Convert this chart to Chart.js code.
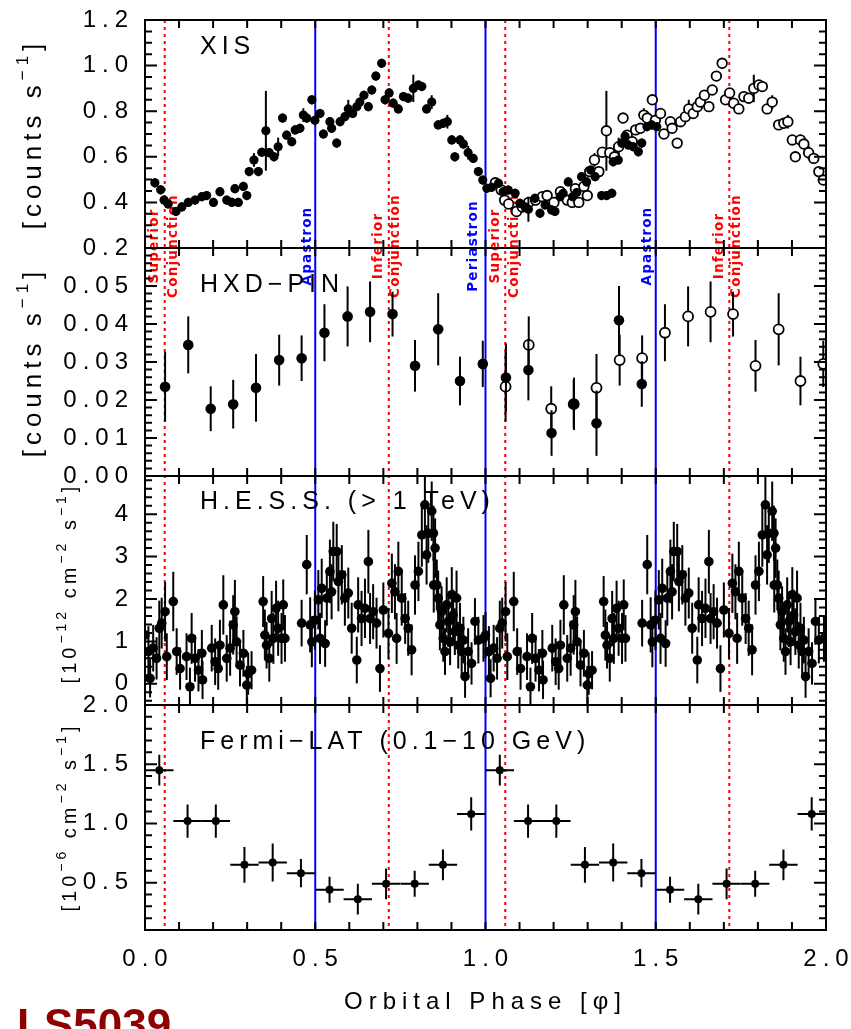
<!DOCTYPE html>
<html><head><meta charset="utf-8">
<script src="https://cdn.jsdelivr.net/npm/chart.js@4.4.1/dist/chart.umd.min.js"></script>
<style>html,body{margin:0;padding:0;background:#fff;}canvas{display:block;}</style>
</head><body>
<canvas id="c" width="851" height="1029"></canvas>
<script>
const FONT = "'Liberation Sans', Arial, Helvetica, sans-serif";

// ---------------- DATA ----------------
// Suzaku XIS, first orbit (also repeated as open circles one cycle later)
const xisPhaseA = [0.029,0.046,0.056,0.068,0.091,0.108,0.127,0.147,0.167,0.181,
  0.201,0.220,0.240,0.255,0.264,0.274,0.289,0.299,0.306,0.320,
  0.333,0.343,0.355,0.365,0.379,0.391,0.404,0.416,0.431,0.441,
  0.455,0.465,0.475,0.490,0.499,0.514,0.524,0.543,0.548,0.563,
  0.573,0.587,0.597,0.610,0.622,0.631,0.643,0.656,0.666,0.678,
  0.695,0.705,0.717,0.729,0.744,0.759,0.773,0.788,0.803,0.813,
  0.827,0.842,0.861,0.876,0.888,0.901,0.910,0.925,0.935,0.949,
  0.964,0.979,0.992];
const xisRateA = [0.486,0.455,0.410,0.393,0.360,0.380,0.400,0.410,0.425,0.430,
  0.400,0.447,0.410,0.400,0.460,0.400,0.470,0.430,0.535,0.586,
  0.535,0.620,0.714,0.618,0.600,0.644,0.770,0.695,0.666,0.718,
  0.725,0.783,0.770,0.850,0.760,0.790,0.700,0.754,0.725,0.660,
  0.754,0.776,0.810,0.790,0.820,0.840,0.870,0.820,0.893,0.954,
  1.010,0.850,0.880,0.835,0.810,0.864,0.857,0.900,0.915,0.908,
  0.810,0.840,0.740,0.747,0.754,0.674,0.600,0.674,0.656,0.618,
  0.593,0.535,0.498];
const xisErrA = [0.02,0.02,0.02,0.02,0.02,0.02,0.02,0.02,0.02,0.02,
  0.02,0.02,0.02,0.02,0.02,0.02,0.02,0.02,0.02,0.03,
  0.02,0.02,0.175,0.02,0.02,0.04,0.02,0.02,0.02,0.02,
  0.02,0.03,0.02,0.02,0.02,0.02,0.02,0.02,0.02,0.02,
  0.02,0.02,0.04,0.02,0.02,0.02,0.02,0.02,0.02,0.02,
  0.02,0.02,0.02,0.02,0.02,0.02,0.02,0.06,0.02,0.02,
  0.02,0.03,0.02,0.02,0.03,0.02,0.02,0.02,0.02,0.03,
  0.02,0.02,0.02];
// Suzaku XIS, second pass (phase 1.0 - 1.5)
const xisPhaseB = [1.004,1.018,1.038,1.052,1.067,1.087,1.101,1.116,1.126,1.145,
  1.160,1.175,1.194,1.204,1.219,1.228,1.243,1.256,1.268,1.282,
  1.297,1.309,1.322,1.341,1.356,1.371,1.375,1.390,1.400,1.410,
  1.419,1.434,1.449,1.459,1.474,1.488,1.503];
const xisRateB = [0.462,0.466,0.484,0.447,0.454,0.440,0.396,0.380,0.370,0.418,
  0.352,0.389,0.367,0.360,0.425,0.440,0.490,0.425,0.443,0.513,
  0.490,0.542,0.513,0.430,0.430,0.440,0.578,0.586,0.660,0.690,
  0.652,0.644,0.622,0.660,0.732,0.740,0.732];
const xisErrB = [0.02,0.02,0.02,0.02,0.02,0.02,0.02,0.02,0.055,0.02,
  0.02,0.02,0.02,0.02,0.02,0.02,0.02,0.02,0.02,0.02,
  0.02,0.02,0.02,0.02,0.02,0.02,0.02,0.02,0.02,0.02,
  0.02,0.02,0.02,0.02,0.02,0.02,0.02];

// Suzaku HXD-PIN
const hxdPhaseA = [0.059,0.127,0.193,0.259,0.326,0.394,0.460,0.527,0.595,0.661,0.727,0.793,0.861,0.925,0.992];
const hxdRateA  = [0.0235,0.0345,0.0177,0.0189,0.0232,0.0305,0.0310,0.0377,0.0420,0.0432,0.0426,0.0290,0.0386,0.0250,0.0295];
const hxdErrA   = [0.0092,0.0075,0.0059,0.0064,0.0089,0.0067,0.0060,0.0075,0.0079,0.0080,0.0059,0.0068,0.0095,0.0064,0.0061];
const hxdPhaseB = [1.060,1.126,1.194,1.260,1.326,1.392,1.459];
const hxdRateB  = [0.0259,0.0279,0.0113,0.0190,0.0139,0.0410,0.0242];
const hxdErrB   = [0.0090,0.0080,0.0060,0.0069,0.0086,0.0090,0.0060];

// H.E.S.S. (> 1 TeV), one orbit, shown twice
const hessPhase = [0.000,0.010,0.015,0.024,0.034,0.042,0.049,0.059,0.064,0.083,
  0.093,0.103,0.122,0.132,0.137,0.147,0.157,0.167,0.169,0.196,
  0.206,0.215,0.220,0.230,0.240,0.250,0.259,0.264,0.269,0.279,
  0.289,0.299,0.303,0.313,0.347,0.352,0.357,0.365,0.372,0.377,
  0.385,0.391,0.401,0.406,0.411,0.460,0.475,0.485,0.490,0.499,
  0.509,0.514,0.519,0.529,0.534,0.543,0.548,0.553,0.563,0.568,
  0.578,0.587,0.597,0.607,0.622,0.626,0.636,0.646,0.656,0.661,
  0.670,0.680,0.690,0.700,0.715,0.725,0.734,0.739,0.744,0.754,
  0.764,0.773,0.783,0.793,0.803,0.813,0.822,0.827,0.832,0.842,
  0.847,0.848,0.852,0.857,0.861,0.866,0.871,0.876,0.881,0.886,
  0.891,0.896,0.901,0.905,0.910,0.915,0.920,0.925,0.930,0.935,
  0.940,0.949,0.959,0.969,0.979,0.994];
const hessFlux = [1.15,0.76,0.13,0.84,0.60,1.31,1.43,1.70,0.64,1.94,
  0.76,0.36,0.64,-0.07,1.07,0.60,0.32,0.72,0.09,0.84,
  0.52,0.36,0.91,1.86,0.60,0.84,1.39,1.70,0.99,0.44,
  0.72,-0.03,0.24,0.32,1.94,1.15,0.91,0.60,1.54,1.07,
  1.78,1.31,1.07,1.86,1.07,1.43,2.81,1.39,0.99,1.50,
  1.98,1.07,2.25,0.95,2.02,2.65,2.17,3.12,3.12,2.41,
  2.57,2.02,2.14,1.31,0.56,1.86,1.54,1.78,2.88,1.54,
  1.70,1.43,0.36,1.74,1.19,2.37,2.17,1.07,2.65,2.02,
  1.54,1.31,0.80,2.33,2.65,3.51,4.22,3.04,3.55,4.07,
  3.55,2.33,3.20,2.33,2.02,1.39,1.70,1.07,0.76,1.86,
  1.47,0.99,2.10,1.62,1.23,2.02,0.91,1.31,0.76,1.03,
  0.17,0.76,0.48,1.47,1.03,1.07];
const hessErr = [0.55,0.60,0.45,0.55,0.50,0.65,0.60,0.70,0.55,0.70,
  0.55,0.50,0.55,0.45,0.60,0.55,0.50,0.55,0.45,0.55,
  0.55,0.50,0.60,0.70,0.55,0.65,0.70,0.75,0.60,0.50,
  0.55,0.45,0.50,0.45,0.60,0.60,0.55,0.55,0.65,0.60,
  0.65,0.65,0.60,0.60,0.55,0.55,0.70,0.65,0.60,0.70,
  0.70,0.60,0.70,0.55,0.65,0.75,0.65,0.70,0.65,0.70,
  0.70,0.65,0.60,0.60,0.55,0.65,0.65,0.70,0.75,0.60,
  0.65,0.60,0.55,0.65,0.60,0.70,0.65,0.60,0.70,0.65,
  0.60,0.65,0.60,0.70,0.70,0.75,0.75,0.70,0.70,0.70,
  0.65,0.65,0.70,0.60,0.65,0.60,0.60,0.55,0.55,0.65,
  0.60,0.55,0.65,0.60,0.55,0.65,0.55,0.60,0.55,0.55,
  0.50,0.55,0.50,0.55,0.55,0.55];

// Fermi-LAT (0.1-10 GeV), 12 phase bins, shown twice
const fermiPhase = [0.042,0.125,0.208,0.292,0.375,0.458,0.542,0.625,0.708,0.792,0.875,0.958];
const fermiFlux  = [1.45,1.02,1.02,0.65,0.67,0.58,0.44,0.36,0.49,0.49,0.65,1.08];
const fermiErr   = [0.13,0.14,0.14,0.15,0.16,0.12,0.11,0.13,0.13,0.11,0.13,0.14];
const fermiBinHalfWidth = 0.0417;

// orbital markers
const apastronPhases   = [0.5, 1.5];
const periastronPhases = [1.0];
const supConjPhases    = [0.058, 1.058];
const infConjPhases    = [0.716, 1.716];

const panelTitles = ['XIS', 'HXD\u2212PIN', 'H.E.S.S. (> 1 TeV)', 'Fermi\u2212LAT (0.1\u221210 GeV)'];
const xTickLabels = ['0.0','0.5','1.0','1.5','2.0'];

// ---------------- BUILD ----------------
const pts = (ph, v, shift) => ph.map((p, i) => ({x: p + (shift || 0), y: v[i]}));

const xisFilled = pts(xisPhaseA, xisRateA).concat(pts(xisPhaseB, xisRateB));
const xisFilledErr = xisErrA.concat(xisErrB);
const xisOpen = pts(xisPhaseA, xisRateA, 1);
const hxdFilled = pts(hxdPhaseA, hxdRateA).concat(pts(hxdPhaseB, hxdRateB));
const hxdFilledErr = hxdErrA.concat(hxdErrB);
const hxdOpen = pts(hxdPhaseA, hxdRateA, 1);
const hessPts = pts(hessPhase, hessFlux).concat(pts(hessPhase, hessFlux, 1));
const hessPtsErr = hessErr.concat(hessErr);
const fermiPts = pts(fermiPhase, fermiFlux).concat(pts(fermiPhase, fermiFlux, 1));
const fermiPtsErr = fermiErr.concat(fermiErr);
const fermiPtsXErr = fermiPts.map(() => fermiBinHalfWidth);

// ---------------- PLUGINS ----------------
const setLS = (ctx, v) => { try { ctx.letterSpacing = v + 'px'; } catch (e) {} };

const letterSpacingPlugin = {
  id: 'ls',
  beforeUpdate(chart) { setLS(chart.ctx, 6); },
  beforeDraw(chart) { setLS(chart.ctx, 6); }
};

const errorBars = {
  id: 'errorBars',
  beforeDatasetDraw(chart, args) {
    const ds = chart.data.datasets[args.index];
    if (!ds.errY && !ds.errX) return;
    const xs = chart.scales[args.meta.xAxisID], ys = chart.scales[args.meta.yAxisID];
    const ctx = chart.ctx;
    ctx.save();
    ctx.beginPath();
    ctx.rect(chart.chartArea.left, ys.top, chart.chartArea.right - chart.chartArea.left, ys.bottom - ys.top);
    ctx.clip();
    ctx.strokeStyle = '#000';
    ctx.lineWidth = ds.errWidth || 2;
    ds.data.forEach((d, i) => {
      const px = xs.getPixelForValue(d.x), py = ys.getPixelForValue(d.y);
      ctx.beginPath();
      if (ds.errY) {
        const e = ds.errY[i];
        ctx.moveTo(px, ys.getPixelForValue(d.y - e));
        ctx.lineTo(px, ys.getPixelForValue(d.y + e));
      }
      if (ds.errX) {
        const e = ds.errX[i];
        ctx.moveTo(xs.getPixelForValue(d.x - e), py);
        ctx.lineTo(xs.getPixelForValue(d.x + e), py);
      }
      ctx.stroke();
    });
    ctx.restore();
  }
};

const markerLabels = [
  {phase: 0.058, dx: -10, text: 'Superior', color: '#ff0000'},
  {phase: 0.058, dx: 9, text: 'Conjunction', color: '#ff0000'},
  {phase: 0.5, dx: -8, text: 'Apastron', color: '#0000ff'},
  {phase: 0.716, dx: -10, text: 'Inferior', color: '#ff0000'},
  {phase: 0.716, dx: 7, text: 'Conjunction', color: '#ff0000'},
  {phase: 1.0, dx: -12, text: 'Periastron', color: '#0000ff'},
  {phase: 1.058, dx: -10, text: 'Superior', color: '#ff0000'},
  {phase: 1.058, dx: 9, text: 'Conjunction', color: '#ff0000'},
  {phase: 1.5, dx: -8, text: 'Apastron', color: '#0000ff'},
  {phase: 1.716, dx: -10, text: 'Inferior', color: '#ff0000'},
  {phase: 1.716, dx: 7, text: 'Conjunction', color: '#ff0000'}
];

const background = {
  id: 'background',
  beforeDatasetsDraw(chart) {
    const ctx = chart.ctx, a = chart.chartArea, xs = chart.scales.x;
    ctx.save();
    ctx.lineWidth = 2;
    ctx.strokeStyle = '#0000ff';
    apastronPhases.concat(periastronPhases).forEach(p => {
      const x = xs.getPixelForValue(p);
      ctx.beginPath(); ctx.moveTo(x, a.top); ctx.lineTo(x, a.bottom); ctx.stroke();
    });
    ctx.strokeStyle = '#ff0000';
    ctx.setLineDash([3, 4]);
    supConjPhases.concat(infConjPhases).forEach(p => {
      const x = xs.getPixelForValue(p);
      ctx.beginPath(); ctx.moveTo(x, a.top); ctx.lineTo(x, a.bottom); ctx.stroke();
    });
    ctx.setLineDash([]);
    const cy = chart.scales.yP.top - 2;
    ctx.font = "bold 13.5px 'DejaVu Sans', sans-serif";
    setLS(ctx, 1.2);
    ctx.textAlign = 'center';
    ctx.textBaseline = 'middle';
    markerLabels.forEach(m => {
      ctx.save();
      ctx.translate(xs.getPixelForValue(m.phase) + m.dx, cy);
      ctx.rotate(-Math.PI / 2);
      ctx.fillStyle = m.color;
      ctx.fillText(m.text, 0, 0);
      ctx.restore();
    });
    ctx.fillStyle = '#000';
    ctx.font = '25px ' + FONT;
    setLS(ctx, 5);
    ctx.textAlign = 'left';
    const titleY = [47, 285, 502, 742];
    panelTitles.forEach((t, i) => ctx.fillText(t, 200, titleY[i]));
    ctx.restore();
  }
};

const tickSpec = {
  yX: {minor: 0.05, major: 0.2},
  yP: {minor: 0.002, major: 0.01},
  yH: {minor: 0.2, major: 1},
  yF: {minor: 0.1, major: 0.5}
};

const frame = {
  id: 'frame',
  afterDatasetsDraw(chart) {
    const ctx = chart.ctx, a = chart.chartArea, xs = chart.scales.x;
    ctx.save();
    ctx.strokeStyle = '#000';
    ctx.lineWidth = 2;
    ctx.beginPath();
    Object.keys(tickSpec).forEach(id => {
      const s = chart.scales[id], sp = tickSpec[id];
      const n0 = Math.ceil(s.min / sp.minor - 1e-6), n1 = Math.floor(s.max / sp.minor + 1e-6);
      for (let n = n0; n <= n1; n++) {
        const v = n * sp.minor;
        const py = s.getPixelForValue(v);
        if (py < s.top + 1.5 || py > s.bottom - 1.5) continue;
        const r = v / sp.major;
        const len = Math.abs(r - Math.round(r)) < 1e-6 ? 12 : 7;
        ctx.moveTo(a.left, py); ctx.lineTo(a.left + len, py);
        ctx.moveTo(a.right, py); ctx.lineTo(a.right - len, py);
      }
      for (let k = 1; k < 20; k++) {
        const px = xs.getPixelForValue(k / 10);
        ctx.moveTo(px, s.top); ctx.lineTo(px, s.top + 8);
        ctx.moveTo(px, s.bottom); ctx.lineTo(px, s.bottom - 8);
      }
      ctx.moveTo(a.left, s.top); ctx.lineTo(a.right, s.top);
    });
    ctx.stroke();
    ctx.strokeRect(a.left, a.top, a.right - a.left, a.bottom - a.top);
    ctx.restore();
  }
};

const yTitles = [
  {cx: 34, cy: 134, size: 26, sup: 17, ls: 5, parts: [{t: '[counts s'}, {t: '\u22121', s: 1}, {t: ']'}]},
  {cx: 34, cy: 362, size: 26, sup: 17, ls: 5, parts: [{t: '[counts s'}, {t: '\u22121', s: 1}, {t: ']'}]},
  {cx: 71, cy: 583, size: 20, sup: 14, ls: 4, parts: [{t: '[10'}, {t: '\u221212', s: 1}, {t: ' cm'}, {t: '\u22122', s: 1}, {t: ' s'}, {t: '\u22121', s: 1}, {t: ']'}]},
  {cx: 71, cy: 817, size: 20, sup: 14, ls: 4, parts: [{t: '[10'}, {t: '\u22126', s: 1}, {t: ' cm'}, {t: '\u22122', s: 1}, {t: ' s'}, {t: '\u22121', s: 1}, {t: ']'}]}
];

const outerText = {
  id: 'outerText',
  afterDraw(chart) {
    const ctx = chart.ctx;
    ctx.save();
    ctx.fillStyle = '#000';
    yTitles.forEach(tt => {
      ctx.save();
      ctx.translate(tt.cx, tt.cy);
      ctx.rotate(-Math.PI / 2);
      setLS(ctx, tt.ls);
      ctx.textAlign = 'left';
      ctx.textBaseline = 'alphabetic';
      const w = tt.parts.map(p => { ctx.font = (p.s ? tt.sup : tt.size) + 'px ' + FONT; return ctx.measureText(p.t).width; });
      let x = -w.reduce((a, b) => a + b, 0) / 2;
      const base = tt.size * 0.26;
      tt.parts.forEach((p, i) => {
        ctx.font = (p.s ? tt.sup : tt.size) + 'px ' + FONT;
        ctx.fillText(p.t, x, p.s ? base - tt.size * 0.5 : base);
        x += w[i];
      });
      ctx.restore();
    });
    ctx.fillStyle = '#8f0000';
    ctx.font = 'bold 44px ' + FONT;
    setLS(ctx, 0);
    ctx.textAlign = 'left';
    ctx.textBaseline = 'alphabetic';
    ctx.fillText('LS5039', 17, 1040);
    ctx.restore();
  }
};

// ---------------- CHART ----------------
const tickFont = {family: FONT, size: 24};
const noPad = s => { s.paddingLeft = 0; s.paddingRight = 0; s.paddingTop = 0; s.paddingBottom = 0; };
const yBase = (weight, stackWeight, min, max, step, cb) => ({
  type: 'linear', position: 'left', stack: 'panels', stackWeight: stackWeight, weight: weight,
  min: min, max: max,
  grid: {display: false, drawTicks: false}, border: {display: false},
  ticks: {stepSize: step, includeBounds: false, autoSkip: false, padding: 11, color: '#000', font: tickFont, callback: cb},
  afterFit: s => { s.width = 145; noPad(s); }
});

new Chart(document.getElementById('c'), {
  type: 'scatter',
  data: {
    datasets: [
      {label: 'XIS', yAxisID: 'yX', data: xisFilled, errY: xisFilledErr, pointRadius: 4.6, pointBackgroundColor: '#000', pointBorderColor: '#000', pointBorderWidth: 0},
      {label: 'XIS (repeat)', yAxisID: 'yX', data: xisOpen, errY: xisErrA, pointRadius: 4.8, pointBackgroundColor: '#fff', pointBorderColor: '#000', pointBorderWidth: 1.8},
      {label: 'HXD-PIN', yAxisID: 'yP', data: hxdFilled, errY: hxdFilledErr, pointRadius: 5.3, pointBackgroundColor: '#000', pointBorderColor: '#000', pointBorderWidth: 0},
      {label: 'HXD-PIN (repeat)', yAxisID: 'yP', data: hxdOpen, errY: hxdErrA, pointRadius: 5, pointBackgroundColor: '#fff', pointBorderColor: '#000', pointBorderWidth: 1.8},
      {label: 'H.E.S.S.', yAxisID: 'yH', data: hessPts, errY: hessPtsErr, pointRadius: 4.8, pointBackgroundColor: '#000', pointBorderColor: '#000', pointBorderWidth: 0},
      {label: 'Fermi-LAT', yAxisID: 'yF', data: fermiPts, errY: fermiPtsErr, errX: fermiPtsXErr, pointRadius: 4, pointBackgroundColor: '#000', pointBorderColor: '#000', pointBorderWidth: 0}
    ]
  },
  options: {
    responsive: false,
    devicePixelRatio: 1,
    animation: false,
    layout: {padding: {top: 20, right: 25, left: 0, bottom: 0}},
    plugins: {legend: {display: false}, tooltip: {enabled: false}},
    scales: {
      x: {
        type: 'linear', position: 'bottom', min: 0, max: 2,
        grid: {display: false, drawTicks: false}, border: {display: false},
        ticks: {stepSize: 0.5, autoSkip: false, maxRotation: 0, padding: 15, labelOffset: 3, color: '#000', font: tickFont,
          callback: (v) => xTickLabels[Math.round(v * 2)]},
        title: {display: true, text: 'Orbital Phase [\u03c6]', color: '#000', font: {family: FONT, size: 24}, padding: {top: 0, bottom: 12}},
        afterFit: s => { s.height = 99; noPad(s); }
      },
      yF: yBase(1, 225, 0.1, 2.0, 0.5, v => v.toFixed(1)),
      yH: yBase(2, 229, -0.5, 4.9, 1, v => String(Math.round(v))),
      yP: yBase(3, 228, 0, 0.06, 0.01, v => (v > 0.055 ? '' : v.toFixed(2))),
      yX: yBase(4, 228, 0.2, 1.2, 0.2, v => v.toFixed(1))
    }
  },
  plugins: [letterSpacingPlugin, errorBars, background, frame, outerText]
});
</script>
</body></html>
